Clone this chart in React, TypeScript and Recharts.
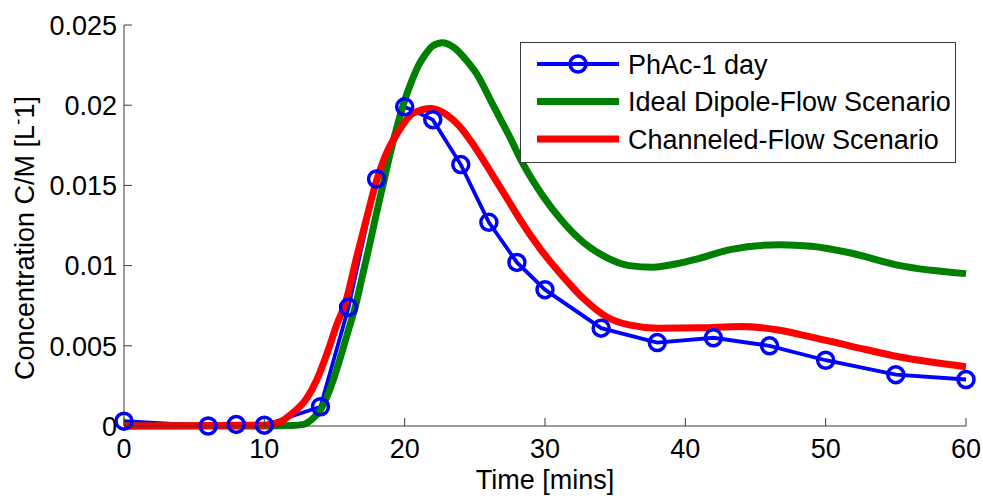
import React from 'react';
import { LineChart, Line, XAxis, YAxis, Legend } from 'recharts';

const FONT = '"Liberation Sans", Arial, Helvetica, sans-serif';
const AXIS_COLOR = '#3a3a3a';

const X_TICKS = [0, 10, 20, 30, 40, 50, 60];
const Y_TICKS = [0, 0.005, 0.01, 0.015, 0.02, 0.025];
const Y_TICK_LABELS = ['0', '0.005', '0.01', '0.015', '0.02', '0.025'];

const X_TITLE = 'Time [mins]';
const Y_TITLE_MAIN = 'Concentration C/M [L';
const Y_TITLE_SUP = '-';
const Y_TITLE_END = '1]';

// PhAc-1 day (measured)
const PHAC_TIME = [0, 6, 8, 10, 14, 16, 18, 20, 22, 24, 26, 28, 30, 34, 38, 42, 46, 50, 55, 60];
const PHAC_CONC = [0.0003, 0.0, 0.0001, 0.00005, 0.0012, 0.0074, 0.0154, 0.0199, 0.0191, 0.0163, 0.0127, 0.0102, 0.0085, 0.0061, 0.0052, 0.0055, 0.005, 0.0041, 0.0032, 0.0029];

// Ideal Dipole-Flow Scenario
const DIPOLE_TIME = [0, 10, 12, 12.8, 13.5, 14, 14.5, 15, 15.5, 16, 16.5, 17, 17.5, 18, 18.5, 19, 19.5, 20, 20.5, 21, 21.5, 22, 22.7, 23.5, 24.3, 25.1, 26.3, 27.5, 28.4, 29.8, 31.3, 32.8, 34.4, 36, 37.7, 39.3, 40.8, 43.2, 46.7, 49, 51.7, 55.3, 60];
const DIPOLE_CONC = [0, 0, 0.00003, 0.0001, 0.0005, 0.001, 0.0019, 0.0031, 0.0045, 0.006, 0.0075, 0.0094, 0.0113, 0.0133, 0.0152, 0.0171, 0.0188, 0.0203, 0.0215, 0.0225, 0.0232, 0.0237, 0.0239, 0.0236, 0.0229, 0.022, 0.02, 0.018, 0.0164, 0.0144, 0.0127, 0.0114, 0.0105, 0.01, 0.0099, 0.0101, 0.0104, 0.011, 0.0113, 0.0112, 0.0108, 0.01, 0.0095];

// Channeled-Flow Scenario
const CHANNEL_TIME = [0, 10, 11, 12, 13, 13.75, 14.5, 15.2, 15.75, 16.6, 17.3, 18, 18.7, 19.45, 20.6, 21.9, 23, 23.9, 25, 26.3, 27.5, 28.2, 29.7, 31.3, 32.8, 34.4, 36, 38, 41, 44, 46.5, 48.2, 51.7, 55.3, 60];
const CHANNEL_CONC = [0, 0.00005, 0.0002, 0.0008, 0.0017, 0.0029, 0.0046, 0.0064, 0.0076, 0.0106, 0.013, 0.0153, 0.017, 0.0182, 0.0195, 0.0198, 0.0194, 0.0187, 0.0174, 0.0156, 0.0139, 0.0129, 0.011, 0.0093, 0.0079, 0.0068, 0.0063, 0.0061, 0.00612, 0.0062, 0.006, 0.0057, 0.005, 0.0043, 0.0037];

const toRows = (t: number[], c: number[]) => t.map((x, i) => ({ t: x, c: c[i] }));

const SERIES = [
  { name: 'PhAc-1 day', color: '#0000FF', width: 3.8, marker: true, type: 'linear', data: toRows(PHAC_TIME, PHAC_CONC) },
  { name: 'Ideal Dipole-Flow Scenario', color: '#008000', width: 7, marker: false, type: 'monotone', data: toRows(DIPOLE_TIME, DIPOLE_CONC) },
  { name: 'Channeled-Flow Scenario', color: '#FF0000', width: 7, marker: false, type: 'monotone', data: toRows(CHANNEL_TIME, CHANNEL_CONC) },
];

const TICK_LEN = 8;
const FS = 27;

const BottomTick = (props: any) => {
  const { x, y, payload } = props;
  return (
    <g>
      <line x1={x} y1={y} x2={x} y2={y - TICK_LEN} stroke={AXIS_COLOR} strokeWidth={1} />
      <text x={x} y={y + 32} textAnchor="middle" fontSize={FS} fontFamily={FONT} fill="#000">
        {payload.value}
      </text>
    </g>
  );
};

const TopTick = (props: any) => {
  const { x, y } = props;
  return <line x1={x} y1={y} x2={x} y2={y + TICK_LEN} stroke={AXIS_COLOR} strokeWidth={1} />;
};

const LeftTick = (props: any) => {
  const { x, y, payload } = props;
  const label = Y_TICK_LABELS[Y_TICKS.indexOf(payload.value)] ?? String(payload.value);
  return (
    <g>
      <line x1={x} y1={y} x2={x + TICK_LEN} y2={y} stroke={AXIS_COLOR} strokeWidth={1} />
      <text x={x - 7} y={y} dy="0.36em" textAnchor="end" fontSize={FS} fontFamily={FONT} fill="#000">
        {label}
      </text>
    </g>
  );
};

const RightTick = (props: any) => {
  const { x, y } = props;
  return <line x1={x} y1={y} x2={x - TICK_LEN} y2={y} stroke={AXIS_COLOR} strokeWidth={1} />;
};

const XTitle = () => (
  <text x={545} y={489} textAnchor="middle" fontSize={FS} fontFamily={FONT} fill="#000">
    {X_TITLE}
  </text>
);

const YTitle = () => (
  <text
    x={34}
    y={238}
    textAnchor="middle"
    fontSize={FS}
    fontFamily={FONT}
    fill="#000"
    transform="rotate(-90, 34, 238)"
  >
    <tspan>{Y_TITLE_MAIN}</tspan>
    <tspan dy={-10} fontSize={19}>{Y_TITLE_SUP}</tspan>
    <tspan dy={10}>{Y_TITLE_END}</tspan>
  </text>
);

const LegendBox = () => (
  <svg width={436} height={121} style={{ display: 'block' }}>
    <rect x={0.5} y={0.5} width={435} height={120} fill="#fff" stroke={AXIS_COLOR} strokeWidth={1} />
    {SERIES.map((s, i) => {
      const cy = 22 + i * 37.5;
      return (
        <g key={s.name}>
          <line x1={17} x2={99} y1={cy} y2={cy} stroke={s.color} strokeWidth={s.width} />
          {s.marker && <circle cx={58} cy={cy} r={8} fill="none" stroke={s.color} strokeWidth={3.5} />}
          <text x={108} y={cy} dy="0.36em" fontSize={FS} fontFamily={FONT} fill="#000">
            {s.name}
          </text>
        </g>
      );
    })}
  </svg>
);

export default function App() {
  return (
    <div style={{ width: 983, height: 496, background: '#fff' }}>
      <style>{'body{margin:0;background:#fff;}'}</style>
      <LineChart width={983} height={496} margin={{ top: 25, right: 17, bottom: 0, left: 0 }}>
        <XAxis
          dataKey="t"
          type="number"
          domain={[0, 60]}
          ticks={X_TICKS}
          interval={0}
          height={70}
          tickSize={0}
          tickMargin={0}
          tick={<BottomTick />}
          axisLine={{ stroke: AXIS_COLOR, strokeWidth: 1 }}
          allowDuplicatedCategory={false}
          label={<XTitle />}
        />
        <XAxis
          xAxisId="top"
          orientation="top"
          dataKey="t"
          type="number"
          domain={[0, 60]}
          ticks={X_TICKS}
          interval={0}
          height={0}
          tickSize={0}
          tickMargin={0}
          tick={<TopTick />}
          axisLine={{ stroke: AXIS_COLOR, strokeWidth: 1 }}
        />
        <YAxis
          type="number"
          domain={[0, 0.025]}
          ticks={Y_TICKS}
          interval={0}
          width={124}
          tickSize={0}
          tickMargin={0}
          tick={<LeftTick />}
          axisLine={{ stroke: AXIS_COLOR, strokeWidth: 1 }}
          label={<YTitle />}
        />
        <YAxis
          yAxisId="right"
          orientation="right"
          type="number"
          domain={[0, 0.025]}
          ticks={Y_TICKS}
          interval={0}
          width={0}
          tickSize={0}
          tickMargin={0}
          tick={<RightTick />}
          axisLine={{ stroke: AXIS_COLOR, strokeWidth: 1 }}
        />
        {SERIES.map((s) => (
          <Line
            key={s.name}
            name={s.name}
            data={s.data}
            dataKey="c"
            type={s.type as any}
            stroke={s.color}
            strokeWidth={s.width}
            dot={s.marker ? { r: 8, stroke: s.color, strokeWidth: 3.5, fill: 'none' } : false}
            activeDot={false}
            isAnimationActive={false}
          />
        ))}
        <Legend
          layout="vertical"
          align="center"
          verticalAlign="middle"
          content={<LegendBox />}
          wrapperStyle={{ left: 520, top: 42, width: 436, height: 121 }}
        />
      </LineChart>
    </div>
  );
}
